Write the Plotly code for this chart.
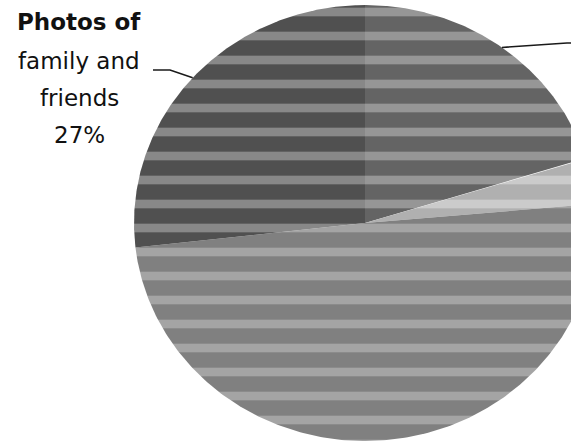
import numpy as np
import plotly.graph_objects as go

# ---- data ----
slice_labels = ["Slice A", "Slice B", "Slice C", "Photos of family and friends"]
slice_values = [20.2, 3.4, 49.6, 26.8]
slice_colors = ["#646464", "#b0b0b0", "#808080", "#505050"]
stripe_colors = ["#c8c8c8", "#e6e6e6", "#c8c8c8", "#c0c0c0"]
label_lines = ["<b>Photos of</b>", "family and", "friends", "27%"]

# ---- layout constants (pixels in the 571x442 frame) ----
W, H = 571, 442
CX, CY = 365, 223
RX, RY = 231, 218

fig = go.Figure()

total = sum(slice_values)
start = 0.0
mids = []
for lab, v, col, sc in zip(slice_labels, slice_values, slice_colors, stripe_colors):
    a0 = start / total * 2 * np.pi
    a1 = (start + v) / total * 2 * np.pi
    mids.append((a0 + a1) / 2)
    t = np.linspace(a0, a1, 240)
    xs = np.concatenate([[CX], CX + RX * np.sin(t), [CX]])
    ys = np.concatenate([[CY], CY - RY * np.cos(t), [CY]])
    fig.add_trace(go.Scatter(
        x=xs, y=ys, mode="lines", fill="toself", name=lab,
        fillcolor=col, line=dict(width=0, color=col),
        fillpattern=dict(shape="-", size=24, solidity=0.36, fgcolor=sc, bgcolor=col),
        hoverinfo="skip", showlegend=False,
    ))
    start += v

# leader lines from slice mid-angles
def edge_point(a):
    return CX + RX * np.sin(a), CY - RY * np.cos(a)

px, py = edge_point(mids[3])
fig.add_trace(go.Scatter(x=[153, 170, px], y=[70, 70, py], mode="lines",
                         line=dict(color="#1a1a1a", width=1.6), hoverinfo="skip", showlegend=False))
qx, qy = edge_point(mids[0])
fig.add_trace(go.Scatter(x=[qx, 567, 580], y=[qy, 43, 43], mode="lines",
                         line=dict(color="#1a1a1a", width=1.6), hoverinfo="skip", showlegend=False))

# label text
centers = [22, 61, 98, 135]
for txt, yc in zip(label_lines, centers):
    fig.add_annotation(x=79, y=yc, text=txt, showarrow=False, xref="x", yref="y",
                       font=dict(family="DejaVu Sans", size=23, color="#111111"))

fig.update_layout(
    width=W, height=H, margin=dict(l=0, r=0, t=0, b=0),
    paper_bgcolor="white", plot_bgcolor="white",
    xaxis=dict(range=[0, W], visible=False, fixedrange=True),
    yaxis=dict(range=[H, 0], visible=False, fixedrange=True),
    showlegend=False,
)
fig.write_html("out.html", config={"displayModeBar": False},
               post_script="document.body.style.margin='0px';document.body.style.overflow='hidden';")
